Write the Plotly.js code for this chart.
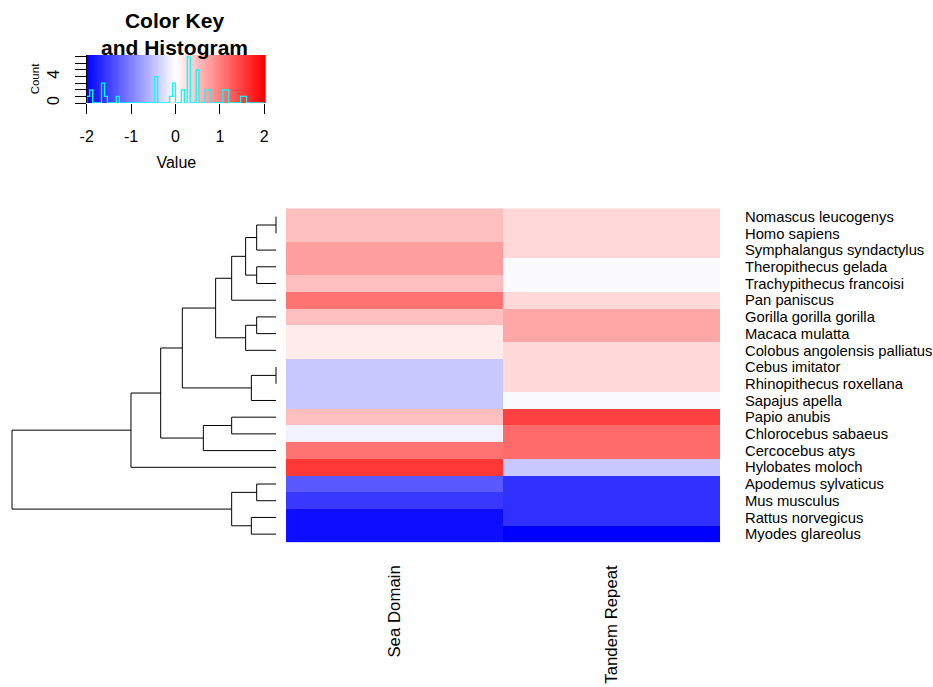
<!DOCTYPE html>
<html>
<head>
<meta charset="utf-8">
<script src="https://cdn.plot.ly/plotly-3.0.1.min.js"></script>
<style>html,body{margin:0;padding:0;background:#fff;}</style>
</head>
<body>
<div id="chart" style="width:933px;height:687px;"></div>
<script>
// ---- data ----
var species = [
  "Nomascus leucogenys","Homo sapiens","Symphalangus syndactylus","Theropithecus gelada",
  "Trachypithecus francoisi","Pan paniscus","Gorilla gorilla gorilla","Macaca mulatta",
  "Colobus angolensis palliatus","Cebus imitator","Rhinopithecus roxellana","Sapajus apella",
  "Papio anubis","Chlorocebus sabaeus","Cercocebus atys","Hylobates moloch",
  "Apodemus sylvaticus","Mus musculus","Rattus norvegicus","Myodes glareolus"
];
var columns = ["Sea Domain", "Tandem Repeat"];
var seaDomain = [0.5, 0.5, 0.76, 0.76, 0.5, 1.1, 0.5, 0.16, 0.16, -0.43,
                 -0.43, -0.43, 0.5, -0.1, 1.1, 1.57, -1.3, -1.57, -1.9, -1.9];
var tandemRepeat = [0.3, 0.3, 0.3, -0.04, -0.04, 0.3, 0.7, 0.7, 0.3, 0.3,
                    0.3, -0.04, 1.5, 1.16, 1.16, -0.43, -1.63, -1.63, -1.63, -2.0];
// dendrogram (hclust-style merges: negative = leaf index in display order, positive = earlier merge)
var mergeA = [-1, -10, -4, -7, 1, -17, 2, -19, 5, 4, 9, -13, 6, 11, 12, 14, 16, 17, 18];
var mergeB = [-2, -11, -5, -8, -3, -18, -12, -20, 3, -9, -6, -14, 8, 10, -15, 7, 15, -16, 13];
var mergeHeight = [0, 0, 0.322, 0.322, 0.322, 0.322, 0.411, 0.411, 0.506, 0.506,
                   0.739, 0.739, 0.739, 1.006, 1.211, 1.561, 1.922, 2.417, 4.4];
var keyTicks = [-2, -1, 0, 1, 2];
var keyTickText = ["-2", "-1", "0", "1", "2"];
var countTicks = [0, 1, 2, 3, 4, 5, 6, 7];
var countTickText = ["0", "", "", "", "4", "", "", ""];

// ---- build ----
var FONT = "Liberation Sans, Arial, sans-serif";
var cs = [[0, "#0000FF"], [0.5, "#FFFFFF"], [1, "#FF0000"]];

var z = species.map(function (s, i) { return [seaDomain[i], tandemRepeat[i]]; });
var rowIdx = species.map(function (s, i) { return i; });

var heat = {
  type: "heatmap", z: z, x: [0, 1], y: rowIdx,
  colorscale: cs, zmin: -2, zmax: 2, showscale: false,
  xaxis: "x", yaxis: "y", hoverinfo: "skip"
};

// dendrogram segments
var nodePos = [], nodeH = [];
function pos(k) { return k < 0 ? (-k - 1) : nodePos[k - 1]; }
function hgt(k) { return k < 0 ? 0 : nodeH[k - 1]; }
var dx = [], dy = [];
for (var m = 0; m < mergeA.length; m++) {
  var a = mergeA[m], b = mergeB[m], h = mergeHeight[m];
  var pa = pos(a), pb = pos(b);
  dx.push(hgt(a), h, h, hgt(b), null);
  dy.push(pa, pa, pb, pb, null);
  nodePos.push((pa + pb) / 2);
  nodeH.push(h);
}
var dendro = {
  type: "scatter", mode: "lines", x: dx, y: dy, xaxis: "x2", yaxis: "y",
  line: { color: "#000", width: 1 }, hoverinfo: "skip", showlegend: false
};

// colour key gradient
var kx = [], kz = [];
for (var g = -1.99; g < 2.05; g += 0.02) { kx.push(g); kz.push(Math.max(-2, Math.min(2, g))); }
var keyGrad = {
  type: "heatmap", z: [kz, kz], x: kx, y: [0, 7.3],
  colorscale: cs, zmin: -2, zmax: 2, showscale: false,
  xaxis: "x3", yaxis: "y3", hoverinfo: "skip"
};

// histogram of all values (60 bins on [-2,2]) as a step line
var allVals = seaDomain.concat(tandemRepeat);
var nb = 60, bw = 4 / nb, counts = [];
for (var i = 0; i < nb; i++) counts.push(0);
allVals.forEach(function (v) {
  var k = Math.floor((v + 2) / bw + 1e-9);
  if (k >= nb) k = nb - 1; if (k < 0) k = 0;
  counts[k]++;
});
var hx = [-2], hy = [0];
for (var i = 0; i < nb; i++) { hx.push(-2 + i * bw); hy.push(counts[i]); }
hx.push(2); hy.push(0);
var hist = {
  type: "scatter", mode: "lines", x: hx, y: hy, xaxis: "x3", yaxis: "y3",
  line: { color: "#00FFFF", width: 1.3, shape: "hv" }, hoverinfo: "skip", showlegend: false
};

var W = 933, H = 687;
function px(x) { return x / W; }
function py(y) { return (H - y) / H; }

var layout = {
  width: W, height: H, margin: { l: 0, r: 0, t: 0, b: 0 },
  paper_bgcolor: "#fff", plot_bgcolor: "#fff",
  font: { family: FONT, color: "#000" }, showlegend: false,
  xaxis: {
    domain: [px(286), px(720)], range: [-0.5, 1.5], anchor: "y",
    tickvals: [0, 1], ticktext: columns, tickangle: -90,
    ticks: "outside", ticklen: 15, tickcolor: "rgba(0,0,0,0)",
    tickfont: { size: 16.8, family: FONT, color: "#000" },
    showgrid: false, zeroline: false, showline: false, fixedrange: true
  },
  yaxis: {
    domain: [py(542.5), py(208.3)], range: [19.5, -0.5], anchor: "x", side: "right",
    tickvals: rowIdx, ticktext: species,
    ticks: "outside", ticklen: 21, tickcolor: "rgba(0,0,0,0)",
    tickfont: { size: 14.8, family: FONT, color: "#000" },
    showgrid: false, zeroline: false, showline: false, fixedrange: true
  },
  xaxis2: {
    domain: [px(6), px(282)], range: [4.5, -0.1], anchor: "y",
    visible: false, showgrid: false, zeroline: false, fixedrange: true
  },
  xaxis3: {
    domain: [px(86.7), px(266)], range: [-2, 2.04], anchor: "y3",
    tickvals: keyTicks, ticktext: keyTickText, ticks: "outside", ticklen: 10, tickcolor: "#000",
    ticklabelstandoff: 9,
    tickfont: { size: 16, family: FONT, color: "#000" },
    title: { text: "Value", font: { size: 16, family: FONT, color: "#000" }, standoff: 12 },
    showgrid: false, zeroline: false, showline: false, fixedrange: true
  },
  yaxis3: {
    domain: [py(103), py(55)], range: [0, 7.27], anchor: "x3",
    tickvals: countTicks, ticktext: countTickText, tickangle: -90,
    ticks: "outside", ticklen: 11, tickcolor: "#000",
    ticklabelstandoff: 9,
    tickfont: { size: 16, family: FONT, color: "#000" },
    title: { text: "Count", font: { size: 11.5, family: FONT, color: "#000" }, standoff: 3 },
    showline: true, linecolor: "#000", linewidth: 1,
    showgrid: false, zeroline: false, fixedrange: true
  },
  annotations: [{
    xref: "paper", yref: "paper", x: px(174), y: py(34.5),
    xanchor: "center", yanchor: "middle", showarrow: false,
    text: "<b>Color Key</b><br><b>and Histogram</b>",
    font: { size: 21, family: FONT, color: "#000" }
  }]
};

Plotly.newPlot("chart", [heat, dendro, keyGrad, hist], layout, { staticPlot: true, displayModeBar: false });
</script>
</body>
</html>
